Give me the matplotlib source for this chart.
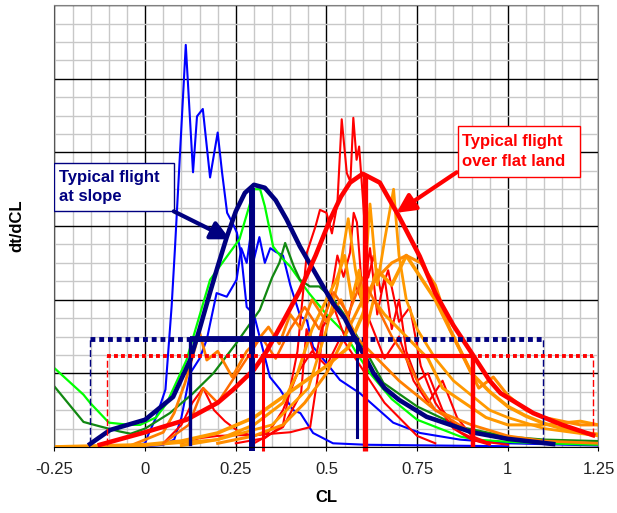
import numpy as np
import matplotlib.pyplot as plt
from matplotlib.patches import Rectangle
from matplotlib.ticker import MultipleLocator

plt.rcParams['font.family'] = ['Liberation Sans', 'DejaVu Sans']

# spiky blue flight
blue_a_x = [-0.05, 0.0, 0.008, 0.03, 0.056, 0.073, 0.082, 0.112, 0.132, 0.143, 0.159, 0.179, 0.2, 0.212,
            0.226, 0.24, 0.253, 0.265, 0.28, 0.30, 0.344, 0.372, 0.408, 0.428, 0.463, 0.518, 0.61, 0.8, 1.0]
blue_a_y = [0.0, 0.05, 0.16, 0.4, 0.78, 1.91, 2.68, 5.46, 3.73, 4.49, 4.59, 3.66, 4.27, 3.73,
            3.18, 3.05, 2.91, 2.6, 1.9, 1.8, 0.95, 0.78, 0.5, 0.46, 0.19, 0.05, 0.03, 0.02, 0.01]

blue_b_x = [-0.02, 0.05, 0.08, 0.1, 0.124, 0.15, 0.17, 0.197, 0.225, 0.252, 0.265, 0.28, 0.29, 0.3, 0.315,
            0.33, 0.345, 0.36, 0.38, 0.4, 0.428, 0.446, 0.463, 0.5, 0.537, 0.592, 0.684, 0.758, 0.868, 1.0, 1.25]
blue_b_y = [0.0, 0.03, 0.1, 0.4, 1.0, 1.2, 1.46, 2.09, 2.04, 2.27, 2.7, 2.5, 2.85, 2.55, 2.85,
            2.5, 2.7, 2.65, 2.6, 2.2, 1.77, 1.72, 1.36, 1.14, 0.91, 0.73, 0.33, 0.19, 0.1, 0.05, 0.02]

green_x = [-0.25, -0.17, -0.152, -0.10, -0.042, -0.014, 0.03, 0.059, 0.114, 0.179, 0.22, 0.26, 0.29, 0.299,
           0.317, 0.33, 0.353, 0.38, 0.4, 0.45, 0.5, 0.55, 0.58, 0.62, 0.68, 0.75, 0.87, 0.914, 1.0, 1.1, 1.25]
green_y = [1.07, 0.71, 0.6, 0.33, 0.3, 0.3, 0.4, 0.59, 1.18, 2.27, 2.55, 2.82, 3.32, 3.5,
           3.5, 3.27, 2.72, 2.55, 2.45, 2.1, 1.8, 1.55, 1.3, 1.0, 0.65, 0.37, 0.14, 0.1, 0.07, 0.05, 0.03]

dkgreen_x = [-0.25, -0.17, -0.125, -0.07, -0.04, 0.0, 0.068, 0.13, 0.188, 0.25, 0.316, 0.35, 0.37, 0.386,
             0.41, 0.427, 0.454, 0.48, 0.52, 0.546, 0.574, 0.62, 0.657, 0.75, 0.87, 1.0, 1.1, 1.25]
dkgreen_y = [0.82, 0.34, 0.28, 0.21, 0.18, 0.25, 0.46, 0.72, 1.0, 1.4, 1.86, 2.3, 2.5, 2.77,
             2.45, 2.27, 2.18, 2.18, 2.0, 1.82, 1.59, 1.2, 0.87, 0.55, 0.27, 0.14, 0.1, 0.08]

# typical flight at slope (fitted)
navy_x = [-0.152, -0.097, 0.0, 0.077, 0.124, 0.15, 0.179, 0.2, 0.225, 0.25, 0.275, 0.3, 0.33, 0.36, 0.39,
          0.427, 0.48, 0.518, 0.55, 0.58, 0.6, 0.63, 0.66, 0.7, 0.776, 0.86, 0.9, 1.0, 1.125]
navy_y = [0.04, 0.23, 0.37, 0.68, 1.18, 1.6, 2.1, 2.45, 2.85, 3.2, 3.45, 3.56, 3.52, 3.35, 3.09,
          2.72, 2.27, 1.95, 1.75, 1.46, 1.28, 1.0, 0.8, 0.64, 0.41, 0.27, 0.2, 0.11, 0.04]

# typical flight over flat land (fitted)
redfit_x = [-0.125, 0.0, 0.114, 0.2, 0.243, 0.3, 0.335, 0.38, 0.427, 0.47, 0.51, 0.54, 0.565, 0.60, 0.647,
            0.70, 0.757, 0.80, 0.85, 0.905, 0.95, 0.98, 1.07, 1.15, 1.235]
redfit_y = [0.03, 0.2, 0.37, 0.6, 0.78, 1.05, 1.3, 1.7, 2.13, 2.6, 3.09, 3.4, 3.59, 3.71, 3.59,
            3.13, 2.59, 2.09, 1.65, 1.24, 0.9, 0.73, 0.46, 0.3, 0.16]

red1_x = [0.25, 0.33, 0.38, 0.42, 0.446, 0.47, 0.482, 0.50, 0.515, 0.53, 0.542, 0.556, 0.566, 0.574, 0.583,
          0.59, 0.6, 0.615, 0.63, 0.65, 0.67, 0.7, 0.73, 0.76, 0.8, 0.85, 0.9, 0.95]
red1_y = [0.05, 0.12, 0.3, 1.3, 2.64, 3.0, 3.22, 3.18, 2.9, 3.3, 4.45, 3.72, 3.6, 4.47, 3.9,
          4.08, 3.4, 2.3, 2.6, 2.1, 2.4, 1.7, 1.9, 1.1, 0.6, 0.25, 0.1, 0.03]
red2_x = [0.3, 0.38, 0.43, 0.445, 0.47, 0.49, 0.51, 0.53, 0.547, 0.565, 0.575, 0.584, 0.6, 0.62, 0.64,
          0.66, 0.68, 0.70, 0.72, 0.75, 0.78, 0.82, 0.87, 0.92, 1.0]
red2_y = [0.05, 0.27, 0.73, 1.6, 1.2, 1.7, 2.0, 2.6, 2.31, 2.64, 3.18, 3.05, 2.0, 2.7, 1.8,
          2.3, 1.6, 2.0, 1.3, 0.9, 1.0, 0.5, 0.2, 0.08, 0.03]
red3_x = [0.1, 0.15, 0.2, 0.25, 0.3, 0.35, 0.4, 0.455, 0.48, 0.49, 0.52, 0.55, 0.58, 0.62, 0.66, 0.7,
          0.74, 0.78, 0.82, 0.86, 0.9, 0.95]
red3_y = [0.05, 0.12, 0.15, 0.16, 0.16, 0.18, 0.2, 0.27, 1.09, 1.63, 1.9, 1.5, 2.2, 1.7, 1.2, 1.5,
          0.9, 0.6, 0.9, 0.4, 0.15, 0.05]
red4_x = [0.05, 0.1, 0.13, 0.16, 0.19, 0.22, 0.26, 0.3, 0.34, 0.38, 0.42, 0.46, 0.5, 0.54, 0.58, 0.62,
          0.66, 0.7, 0.75, 0.8]
red4_y = [0.05, 0.3, 0.6, 0.8, 0.5, 0.35, 0.2, 0.15, 0.2, 0.5, 1.0, 1.3, 1.1, 1.5, 1.2, 0.9,
          0.6, 0.4, 0.15, 0.05]

or1_x = [-0.25, 0.0, 0.2, 0.35, 0.45, 0.5, 0.53, 0.56, 0.58, 0.6, 0.62, 0.64, 0.66, 0.685, 0.7, 0.72,
         0.75, 0.8, 0.85, 0.9, 0.95, 1.0, 1.1, 1.25]
or1_y = [0.0, 0.02, 0.1, 0.3, 0.8, 1.6, 2.2, 3.1, 2.4, 1.9, 3.3, 2.2, 2.8, 3.5, 2.6, 2.0,
         1.6, 1.2, 0.9, 0.7, 0.5, 0.4, 0.25, 0.15]
or2_x = [0.1, 0.2, 0.3, 0.38, 0.42, 0.46, 0.5, 0.53, 0.55, 0.57, 0.59, 0.61, 0.63, 0.66, 0.7, 0.74,
         0.78, 0.82, 0.88, 0.94, 1.0, 1.1, 1.2, 1.25]
or2_y = [0.02, 0.1, 0.3, 0.6, 1.0, 1.6, 2.0, 2.3, 2.6, 2.0, 2.4, 1.6, 2.0, 1.8, 1.6, 1.4,
         1.2, 0.8, 0.6, 0.4, 0.3, 0.3, 0.35, 0.3]
or3_x = [-0.05, 0.05, 0.08, 0.11, 0.15, 0.17, 0.2, 0.24, 0.28, 0.31, 0.34, 0.37, 0.4, 0.43, 0.46, 0.5,
         0.54, 0.58, 0.62, 0.66, 0.7, 0.75, 0.8, 0.9, 1.0, 1.1, 1.25]
or3_y = [0.0, 0.2, 0.46, 0.87, 1.56, 1.18, 1.3, 0.95, 1.3, 1.45, 1.63, 1.4, 1.8, 1.6, 2.0, 1.7,
         2.0, 1.5, 1.3, 1.1, 0.9, 0.7, 0.5, 0.3, 0.15, 0.08, 0.05]
or4_x = [-0.25, 0.0, 0.1, 0.2, 0.3, 0.4, 0.5, 0.56, 0.6, 0.64, 0.68, 0.72, 0.76, 0.8, 0.85, 0.9,
         0.95, 1.0, 1.05, 1.1, 1.15, 1.2, 1.25]
or4_y = [0.0, 0.03, 0.08, 0.19, 0.4, 0.75, 1.1, 1.35, 1.8, 2.4, 2.2, 2.6, 2.3, 2.0, 1.5, 1.0,
         0.75, 0.55, 0.42, 0.32, 0.25, 0.2, 0.17]
or5_x = [0.2, 0.3, 0.38, 0.44, 0.5, 0.55, 0.6, 0.64, 0.68, 0.72, 0.76, 0.8, 0.84, 0.88, 0.92, 0.96,
         1.0, 1.05, 1.1, 1.15, 1.2, 1.25]
or5_y = [0.05, 0.15, 0.3, 0.6, 1.0, 1.5, 2.0, 2.3, 2.5, 2.6, 2.5, 2.2, 1.6, 1.2, 0.8, 0.95,
         0.7, 0.5, 0.4, 0.35, 0.3, 0.3]
or6_x = [0.05, 0.12, 0.16, 0.2, 0.24, 0.28, 0.32, 0.36, 0.4, 0.44, 0.48, 0.52, 0.56, 0.6, 0.64, 0.68,
         0.72, 0.76, 0.8, 0.9, 1.0]
or6_y = [0.05, 0.3, 0.8, 0.6, 0.9, 1.2, 1.5, 1.2, 1.6, 1.9, 1.6, 2.1, 1.8, 2.3, 1.9, 1.5,
         1.2, 0.8, 0.5, 0.2, 0.1]

# mean / spread markers
slope_lo, slope_mean, slope_hi, slope_level = 0.124, 0.295, 0.583, 1.46
slope_min, slope_max = -0.152, 1.098
flat_lo, flat_mean, flat_hi, flat_level = 0.326, 0.605, 0.905, 1.24
flat_min, flat_max = -0.106, 1.235

navy = '#000080'
red = '#FF0000'

fig = plt.figure(figsize=(6.17, 5.13), dpi=100)
ax = fig.add_axes([0.0883, 0.1287, 0.8817, 0.8613])

ax.plot(blue_a_x, blue_a_y, color='#0000FF', lw=1.5)
ax.plot(blue_b_x, blue_b_y, color='#0000FF', lw=1.5)
ax.plot(green_x, green_y, color='#00FF00', lw=1.6)
ax.plot(dkgreen_x, dkgreen_y, color='#118811', lw=1.6)
for xs, ys in [(red1_x, red1_y), (red2_x, red2_y), (red3_x, red3_y), (red4_x, red4_y)]:
    ax.plot(xs, ys, color=red, lw=1.5)
ax.plot(or1_x, or1_y, color='#FF9900', lw=2.0)
ax.plot(or2_x, or2_y, color='#FF9900', lw=2.2)
ax.plot(or3_x, or3_y, color='#FF7F00', lw=2.0)
ax.plot(or4_x, or4_y, color='#FF9900', lw=2.6)
ax.plot(or5_x, or5_y, color='#FF8C00', lw=2.2)
ax.plot(or6_x, or6_y, color='#FF6A00', lw=1.8)
ax.plot(navy_x, navy_y, color=navy, lw=3.3)
ax.plot(redfit_x, redfit_y, color=red, lw=3.3)

# slope markers
ax.plot([slope_min, slope_max], [slope_level] * 2, color=navy, lw=3.5, ls=(0, (1, 0.8)))
ax.plot([slope_lo, slope_hi], [slope_level] * 2, color=navy, lw=4.2, solid_capstyle='butt')
ax.plot([slope_min] * 2, [0.04, slope_level], color=navy, lw=1, ls=(0, (5, 2)))
ax.plot([slope_max] * 2, [0.04, slope_level], color=navy, lw=1, ls=(0, (5, 2)))
ax.plot([slope_lo] * 2, [0.04, slope_level], color=navy, lw=2.4)
ax.plot([slope_hi] * 2, [0.14, slope_level], color=navy, lw=2.2)
ax.plot([slope_mean] * 2, [-0.06, 3.52], color=navy, lw=4.3, clip_on=False, solid_capstyle='butt')

# flat land markers
ax.plot([flat_min, flat_max], [flat_level] * 2, color=red, lw=2.8, ls=(0, (1, 0.8)))
ax.plot([flat_lo, flat_hi], [flat_level] * 2, color=red, lw=3.0, solid_capstyle='butt')
ax.plot([flat_min] * 2, [0.03, flat_level], color=red, lw=1, ls=(0, (5, 2)))
ax.plot([flat_max] * 2, [0.16, flat_level], color=red, lw=1, ls=(0, (5, 2)))
ax.plot([flat_lo] * 2, [-0.05, flat_level], color=red, lw=2.2, clip_on=False, solid_capstyle='butt')
ax.plot([flat_hi] * 2, [0.0, flat_level], color=red, lw=3.2, solid_capstyle='butt')
ax.plot([flat_mean] * 2, [-0.06, 3.71], color=red, lw=3.8, clip_on=False, solid_capstyle='butt')

# callouts
ax.add_patch(Rectangle((-0.25, 3.2), 0.33, 0.66, facecolor='white', edgecolor=navy, lw=1, zorder=5))
ax.text(-0.238, 3.53, 'Typical flight\nat slope', color=navy, fontsize=12, fontweight='bold',
        va='center', ha='left', linespacing=1.4, zorder=6)
ax.annotate('', xy=(0.234, 2.82), xytext=(0.079, 3.2),
            arrowprops=dict(arrowstyle='-|>', color=navy, lw=3, mutation_scale=28, shrinkA=0, shrinkB=0),
            zorder=6)

ax.add_patch(Rectangle((0.862, 3.67), 0.337, 0.69, facecolor='white', edgecolor=red, lw=1, zorder=5))
ax.text(0.873, 4.015, 'Typical flight\nover flat land', color=red, fontsize=12, fontweight='bold',
        va='center', ha='left', linespacing=1.4, zorder=6)
ax.annotate('', xy=(0.693, 3.18), xytext=(0.859, 3.73),
            arrowprops=dict(arrowstyle='-|>', color=red, lw=3, mutation_scale=28, shrinkA=0, shrinkB=0),
            zorder=6)

ax.set_xlim(-0.25, 1.25)
ax.set_ylim(0, 6)
ax.xaxis.set_major_locator(MultipleLocator(0.25))
ax.xaxis.set_minor_locator(MultipleLocator(0.05))
ax.yaxis.set_major_locator(MultipleLocator(1))
ax.yaxis.set_minor_locator(MultipleLocator(0.25))
ax.grid(which='minor', color='#C8C8C8', lw=1)
ax.grid(which='major', color='black', lw=1)
ax.set_axisbelow(True)
ax.set_yticklabels([])
ax.tick_params(axis='y', which='both', length=0)
ax.tick_params(axis='x', which='major', length=3, labelsize=12, labelcolor='#222222', pad=8)
ax.tick_params(axis='x', which='minor', length=0)
ax.set_xticks([-0.25, 0, 0.25, 0.5, 0.75, 1, 1.25])
ax.set_xticklabels(['-0.25', '0', '0.25', '0.5', '0.75', '1', '1.25'])

for s in ['top', 'right']:
    ax.spines[s].set_color('#808080')
ax.spines['left'].set_color('#555555')

ax.set_xlabel('CL', fontsize=12, fontweight='bold', labelpad=9)
ax.set_ylabel('dt/dCL', fontsize=12, fontweight='bold', labelpad=18)

fig.savefig('out.png', dpi=100)
